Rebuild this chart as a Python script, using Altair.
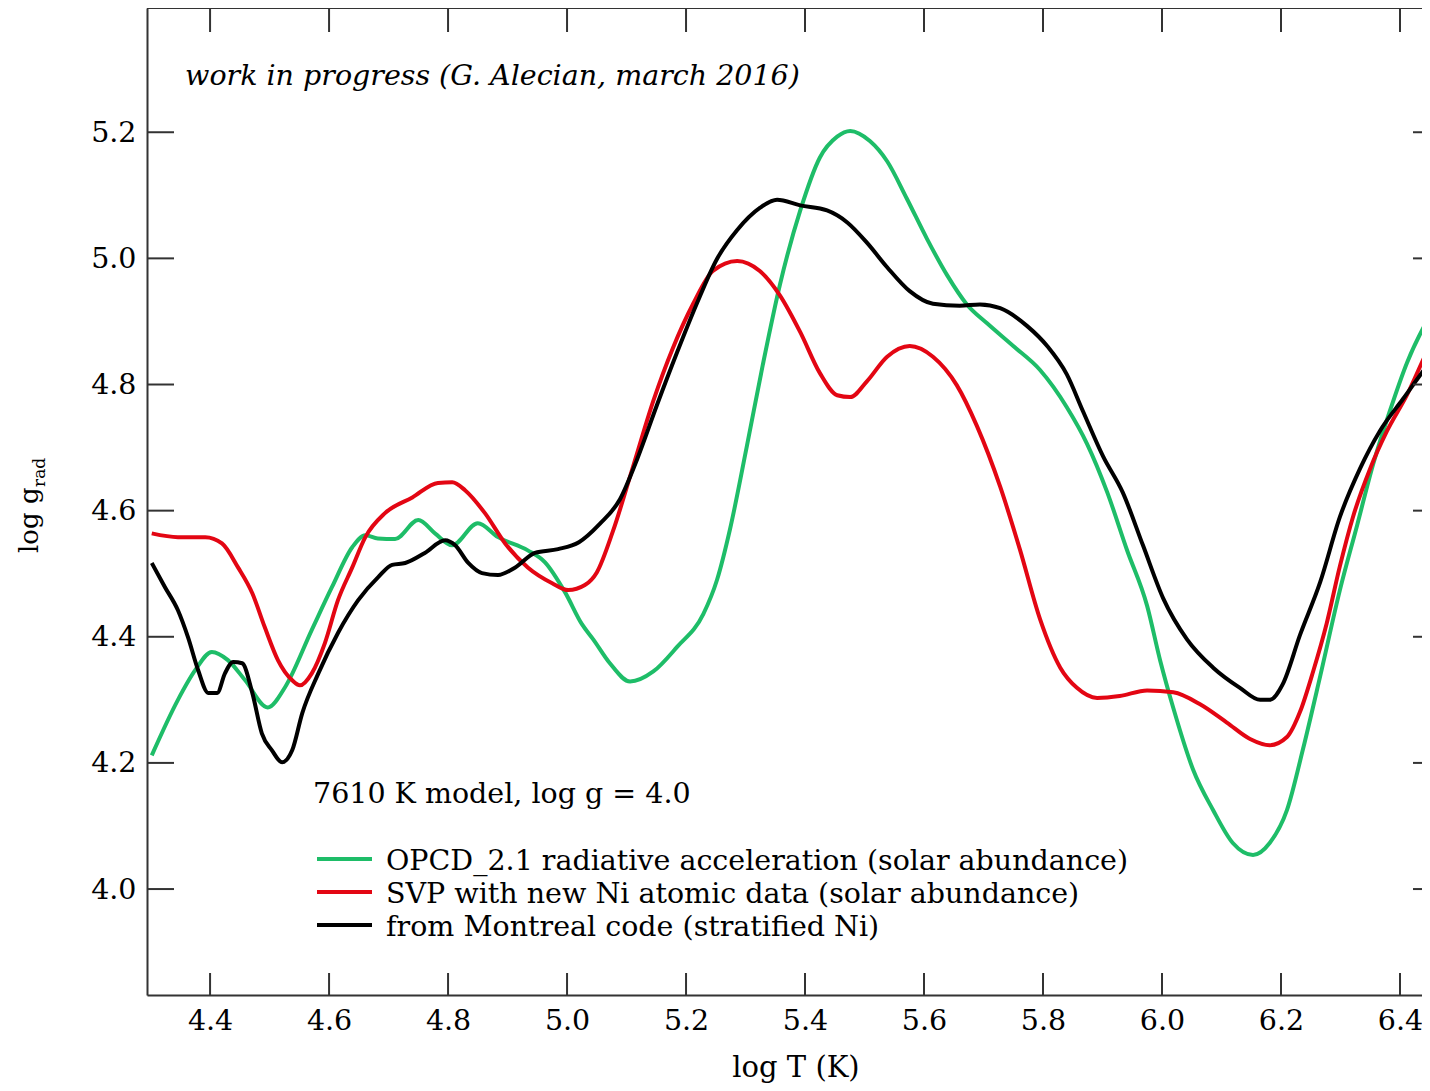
import altair as alt
import pandas as pd

# ---------------- data ----------------
series_names = [
    "OPCD_2.1 radiative acceleration (solar abundance)",
    "SVP with new Ni atomic data (solar abundance)",
    "from Montreal code (stratified Ni)",
]
series_colors = ["#1ebd68", "#e30613", "#000000"]

green_x = [4.302, 4.346, 4.375, 4.403, 4.430, 4.459, 4.497, 4.526, 4.571, 4.605,
           4.639, 4.661, 4.682, 4.711, 4.750, 4.778, 4.807, 4.850, 4.884, 4.934,
           4.963, 4.997, 5.025, 5.044, 5.072, 5.106, 5.145, 5.185, 5.229, 5.252,
           5.274, 5.302, 5.329, 5.358, 5.392, 5.425, 5.454, 5.476, 5.509, 5.538,
           5.571, 5.605, 5.639, 5.672, 5.706, 5.750, 5.795, 5.840, 5.874, 5.908,
           5.941, 5.975, 5.997, 6.019, 6.052, 6.086, 6.119, 6.153, 6.181, 6.210,
           6.237, 6.266, 6.299, 6.328, 6.355, 6.383, 6.412, 6.445, 6.467]
green_y = [4.212, 4.300, 4.347, 4.376, 4.363, 4.331, 4.288, 4.320, 4.411, 4.479,
           4.542, 4.561, 4.556, 4.555, 4.585, 4.564, 4.545, 4.580, 4.558, 4.537,
           4.518, 4.470, 4.420, 4.396, 4.358, 4.329, 4.345, 4.384, 4.436, 4.490,
           4.571, 4.701, 4.831, 4.959, 5.076, 5.160, 5.193, 5.202, 5.186, 5.154,
           5.095, 5.031, 4.973, 4.927, 4.897, 4.861, 4.823, 4.764, 4.706, 4.629,
           4.538, 4.449, 4.362, 4.287, 4.190, 4.125, 4.073, 4.054, 4.073, 4.125,
           4.222, 4.338, 4.474, 4.577, 4.674, 4.758, 4.835, 4.900, 4.935]

red_x = [4.302, 4.346, 4.392, 4.420, 4.447, 4.471, 4.492, 4.514, 4.538, 4.551,
         4.571, 4.593, 4.615, 4.639, 4.661, 4.694, 4.740, 4.783, 4.807, 4.829,
         4.862, 4.896, 4.934, 4.975, 5.002, 5.030, 5.050, 5.077, 5.111, 5.145,
         5.178, 5.212, 5.245, 5.286, 5.324, 5.358, 5.392, 5.425, 5.454, 5.476,
         5.504, 5.538, 5.576, 5.615, 5.655, 5.689, 5.728, 5.761, 5.795, 5.829,
         5.857, 5.891, 5.929, 5.975, 6.019, 6.064, 6.109, 6.148, 6.181, 6.210,
         6.232, 6.254, 6.277, 6.299, 6.321, 6.350, 6.378, 6.412, 6.450, 6.467]
red_y = [4.564, 4.558, 4.558, 4.548, 4.510, 4.469, 4.415, 4.363, 4.331, 4.323,
         4.342, 4.390, 4.458, 4.510, 4.558, 4.596, 4.621, 4.644, 4.645, 4.632,
         4.596, 4.548, 4.510, 4.485, 4.474, 4.482, 4.502, 4.567, 4.670, 4.774,
         4.858, 4.928, 4.980, 4.996, 4.980, 4.941, 4.883, 4.818, 4.783, 4.780,
         4.805, 4.844, 4.861, 4.844, 4.799, 4.734, 4.638, 4.539, 4.428, 4.351,
         4.319, 4.303, 4.306, 4.315, 4.312, 4.293, 4.264, 4.238, 4.228, 4.241,
         4.281, 4.345, 4.422, 4.512, 4.590, 4.667, 4.726, 4.784, 4.861, 4.890]

black_x = [4.302, 4.324, 4.346, 4.363, 4.380, 4.397, 4.412, 4.425, 4.439, 4.454,
           4.471, 4.487, 4.504, 4.521, 4.538, 4.555, 4.582, 4.615, 4.649, 4.683,
           4.706, 4.728, 4.761, 4.795, 4.812, 4.834, 4.857, 4.884, 4.913, 4.946,
           4.985, 5.020, 5.055, 5.089, 5.118, 5.151, 5.185, 5.218, 5.252, 5.286,
           5.324, 5.353, 5.392, 5.437, 5.471, 5.504, 5.538, 5.576, 5.615, 5.660,
           5.694, 5.728, 5.773, 5.807, 5.840, 5.867, 5.901, 5.934, 5.968, 6.002,
           6.042, 6.086, 6.131, 6.165, 6.181, 6.203, 6.232, 6.266, 6.299, 6.333,
           6.366, 6.405, 6.450, 6.467]
black_y = [4.517, 4.479, 4.442, 4.399, 4.347, 4.311, 4.311, 4.342, 4.360, 4.358,
           4.311, 4.247, 4.220, 4.201, 4.220, 4.279, 4.342, 4.406, 4.458, 4.495,
           4.514, 4.517, 4.533, 4.553, 4.545, 4.517, 4.501, 4.498, 4.510, 4.533,
           4.539, 4.550, 4.579, 4.618, 4.682, 4.767, 4.851, 4.928, 4.999, 5.045,
           5.080, 5.093, 5.084, 5.076, 5.057, 5.025, 4.986, 4.948, 4.928, 4.925,
           4.927, 4.921, 4.893, 4.861, 4.816, 4.758, 4.686, 4.629, 4.545, 4.461,
           4.396, 4.351, 4.319, 4.300, 4.300, 4.325, 4.403, 4.487, 4.590, 4.667,
           4.726, 4.777, 4.835, 4.855]

x_ticks = [4.4, 4.6, 4.8, 5.0, 5.2, 5.4, 5.6, 5.8, 6.0, 6.2, 6.4]
y_ticks = [4.0, 4.2, 4.4, 4.6, 4.8, 5.0, 5.2]
x_domain = [4.294, 6.437]
y_domain = [3.832, 5.397]

note_text = ["work in progress (G. Alecian, march 2016)"]
model_text = ["7610 K model, log g = 4.0"]
x_title = ["log T (K)"]
y_title_main = ["log g"]
y_title_sub = ["rad"]

# ---------------- layout ----------------
W, H = 1275, 987
FULL_W = 1293          # where the (cropped-off) right frame would sit
FONT = "DejaVu Serif"
FS = 28.5
FRAME = "#333333"

xs = alt.Scale(domain=x_domain, nice=False, zero=False)
ys = alt.Scale(domain=y_domain, nice=False, zero=False)

x_axis = alt.Axis(values=x_ticks, format=".1f", tickSize=0, ticks=False,
                  labelPadding=11, labelFont=FONT, labelFontSize=FS,
                  labelColor="black", domainColor=FRAME, domainWidth=2,
                  grid=False, title=None, labelFlush=False)
y_axis = alt.Axis(values=y_ticks, format=".1f", tickSize=0, ticks=False,
                  labelPadding=11, labelFont=FONT, labelFontSize=FS,
                  labelColor="black", domainColor=FRAME, domainWidth=2,
                  grid=False, title=None, labelFlush=False)

layers = []
for name, col, xv, yv in zip(series_names, series_colors,
                             [green_x, red_x, black_x], [green_y, red_y, black_y]):
    df = pd.DataFrame({"x": xv, "y": yv, "series": name})
    layers.append(
        alt.Chart(df).mark_line(color=col, strokeWidth=4, clip=True,
                                interpolate="monotone").encode(
            x=alt.X("x:Q", scale=xs, axis=x_axis),
            y=alt.Y("y:Q", scale=ys, axis=y_axis),
            order="x:Q",
        )
    )

xt = pd.DataFrame({"x": x_ticks})
yt = pd.DataFrame({"y": y_ticks})
tick_style = dict(color=FRAME, strokeWidth=2)
layers += [
    alt.Chart(xt).mark_rule(**tick_style).encode(
        x=alt.X("x:Q", scale=xs, axis=x_axis), y=alt.value(H), y2=alt.value(H - 22)),
    alt.Chart(xt).mark_rule(**tick_style).encode(
        x=alt.X("x:Q", scale=xs, axis=x_axis), y=alt.value(0), y2=alt.value(24)),
    alt.Chart(yt).mark_rule(**tick_style).encode(
        y=alt.Y("y:Q", scale=ys, axis=y_axis), x=alt.value(0), x2=alt.value(27)),
    alt.Chart(yt).mark_rule(**tick_style).encode(
        y=alt.Y("y:Q", scale=ys, axis=y_axis), x=alt.value(FULL_W - 27), x2=alt.value(FULL_W)),
    alt.Chart(pd.DataFrame({"a": [0]})).mark_rule(**tick_style).encode(
        x=alt.value(0), x2=alt.value(W), y=alt.value(0)),
]

def text_layer(lst, x, y, size=FS, style="normal", angle=0, align="left"):
    return alt.Chart(pd.DataFrame({"t": lst})).mark_text(
        font=FONT, fontSize=size, fontStyle=style, color="black", angle=angle,
        align=align, baseline="alphabetic").encode(
        text="t:N", x=alt.value(x), y=alt.value(y))

layers += [
    text_layer(note_text, 38, 77, size=28.5, style="italic"),
    text_layer(model_text, 166, 795, size=28.5),
    text_layer(x_title, 649, 1069, size=29, align="center"),
    text_layer(y_title_main, -109, 545, size=26, angle=270),
    text_layer(y_title_sub, -102, 479, size=17, angle=270),
]

# legend
legend_y = [851, 884, 917]
for name, col, ly in zip(series_names, series_colors, legend_y):
    layers.append(
        alt.Chart(pd.DataFrame({"t": [name]})).mark_rule(color=col, strokeWidth=4).encode(
            x=alt.value(170), x2=alt.value(225), y=alt.value(ly)))
    layers.append(text_layer([name], 239, ly + 11, size=28.5))

chart = alt.layer(*layers).properties(
    width=W, height=H,
    autosize=alt.AutoSizeParams(type="none"),
    padding={"left": 139, "top": 0, "right": 0, "bottom": 90},
).configure_view(stroke="transparent").configure(background="white")

chart.save("out.html", embed_options={"renderer": "svg", "actions": False})
